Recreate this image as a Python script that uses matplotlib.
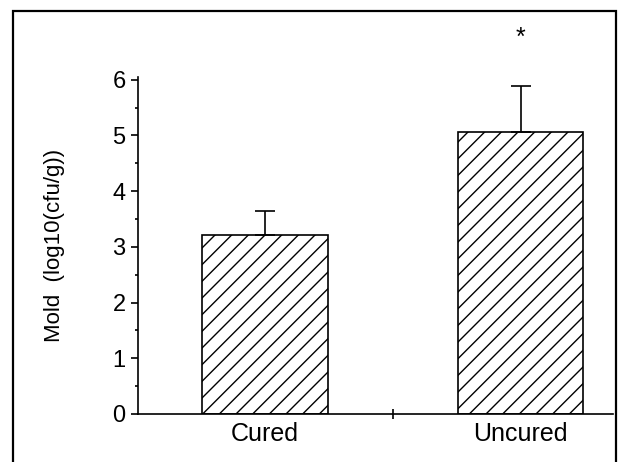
import matplotlib
matplotlib.use("Agg")
import matplotlib.pyplot as plt
from matplotlib.patches import Rectangle
from matplotlib.ticker import MultipleLocator

# === data ===
groups = ["Cured", "Uncured"]
mold_mean = [3.21, 5.07]
mold_err = [0.43, 0.81]
sig_marks = ["", "*"]

plt.rcParams['font.family'] = ['Liberation Sans', 'DejaVu Sans']

fig = plt.figure(figsize=(6.18, 4.62), dpi=100)
ax = fig.add_axes([138/618, 1 - 414/462, (613 - 138)/618, (414 - 77)/462])

xpos = list(range(len(groups)))
ax.bar(xpos, mold_mean, width=0.493, color="white", edgecolor="black",
       hatch="//", linewidth=1.2, zorder=2)
ax.errorbar(xpos, mold_mean, yerr=[[0]*len(groups), mold_err], fmt="none",
            ecolor="black", elinewidth=1.2, capsize=7.2, capthick=1.2, zorder=3)

# significance star above the bar
for x, y, e, s in zip(xpos, mold_mean, mold_err, sig_marks):
    if s:
        ax.text(x, 6.53, s, ha="center", va="bottom", fontsize=18, clip_on=False)

ax.set_xlim(-0.497, 1.362)
ax.set_ylim(0, 6.05)

# y axis
ax.yaxis.set_major_locator(MultipleLocator(1))
ax.yaxis.set_minor_locator(MultipleLocator(0.5))
ax.tick_params(axis="y", which="major", length=5, width=1.2, labelsize=17, pad=4)
ax.tick_params(axis="y", which="minor", length=2, width=1.2)
ax.set_ylabel("Mold  (log10(cfu/g))", fontsize=16, labelpad=34)

# x axis: one tick between the bars, labels under the bars
ax.set_xticks([0.5])
ax.set_xticklabels([""])
ax.set_xticks(xpos, minor=True)
ax.set_xticklabels(groups, minor=True, fontsize=18)
ax.tick_params(axis="x", which="major", direction="inout", length=7, width=1.2)
ax.tick_params(axis="x", which="minor", length=0, pad=6)

for side in ["top", "right"]:
    ax.spines[side].set_visible(False)
for side in ["left", "bottom"]:
    ax.spines[side].set_linewidth(1.2)

# outer frame around the figure
frame = Rectangle((13/618, -0.1), (616 - 13)/618, 1.1 - 11/462,
                  transform=fig.transFigure, fill=False, edgecolor="black",
                  linewidth=1.6)
fig.patches.append(frame)

fig.savefig("out.png", dpi=100)
